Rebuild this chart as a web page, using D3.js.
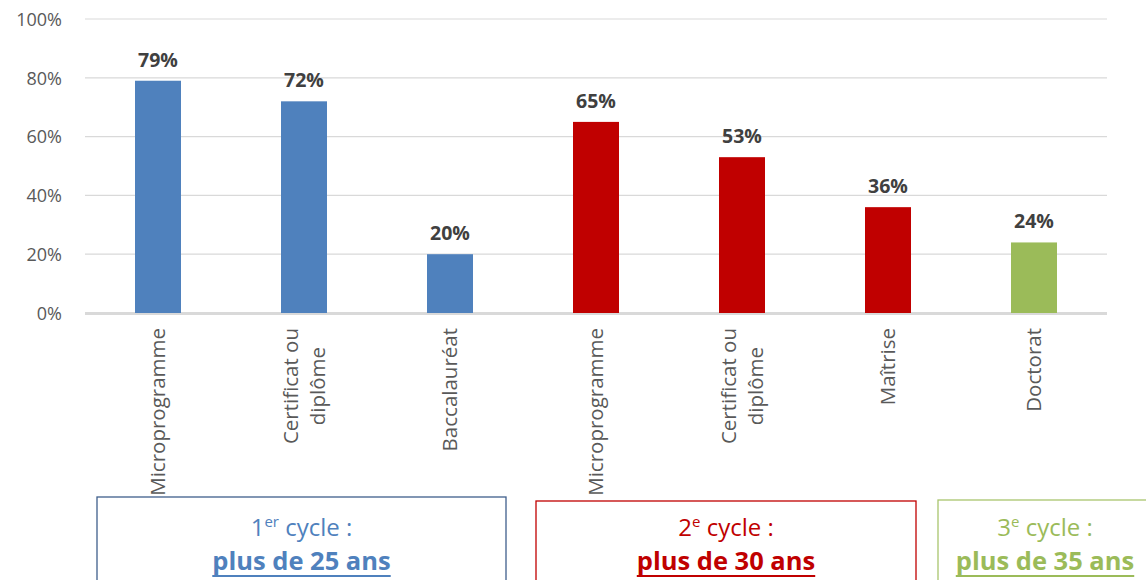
<!DOCTYPE html>
<html>
<head>
<meta charset="utf-8">
<script src="https://cdn.jsdelivr.net/npm/d3@7"></script>
<style>
  html, body { margin: 0; padding: 0; background: #fff; }
  svg { display: block; }
</style>
</head>
<body>
<svg id="chart" width="1146" height="580"></svg>
<script>
// ---- data ----
const categories = [
  ["Microprogramme"],
  ["Certificat ou", "diplôme"],
  ["Baccalauréat"],
  ["Microprogramme"],
  ["Certificat ou", "diplôme"],
  ["Maîtrise"],
  ["Doctorat"]
];
const values = [0.79, 0.72, 0.20, 0.65, 0.53, 0.36, 0.24];
const cycleOfBar = [0, 0, 0, 1, 1, 1, 2];
const yTicks = [0, 0.2, 0.4, 0.6, 0.8, 1.0];

const cycleNumbers = ["1", "2", "3"];
const cycleSups = ["er", "e", "e"];
const cycleAges = ["plus de 25 ans", "plus de 30 ans", "plus de 35 ans"];
const cycleColors = ["#4F81BD", "#C00000", "#9BBB59"];
const cycleBorders = ["#3F5F8C", "#C00000", "#A9C56E"];

// ---- layout ----
const W = 1146, H = 580;
const plot = { left: 85, right: 1107, top: 19, bottom: 313 };
const boxes = [
  { x: 97, y: 497, w: 409 },
  { x: 536, y: 501, w: 380 },
  { x: 938, y: 500, w: 214 }
];

const svg = d3.select("#chart");

const x = d3.scaleBand()
  .domain(d3.range(values.length))
  .range([plot.left, plot.right])
  .paddingInner(0.685)
  .paddingOuter(0.3425);

const y = d3.scaleLinear().domain([0, 1]).range([plot.bottom, plot.top]);

// gridlines
svg.append("g")
  .selectAll("line")
  .data(yTicks)
  .join("line")
  .attr("x1", plot.left)
  .attr("x2", plot.right)
  .attr("y1", d => y(d))
  .attr("y2", d => y(d))
  .attr("stroke", "#D9D9D9")
  .attr("stroke-width", d => d === 0 ? 2 : 1.2);

// y-axis labels via d3 axis
const yAxis = d3.axisLeft(y)
  .tickValues(yTicks)
  .tickFormat(d3.format(".0%"))
  .tickSize(0)
  .tickPadding(0);
const yg = svg.append("g")
  .attr("transform", `translate(62,0)`)
  .call(yAxis);
yg.select(".domain").remove();
yg.selectAll("text")
  .attr("font-family", "'Open Sans', sans-serif")
  .attr("font-size", 18)
  .attr("fill", "#595959")
  .attr("dy", "0.35em");

// bars
svg.append("g")
  .selectAll("rect")
  .data(values)
  .join("rect")
  .attr("x", (d, i) => x(i))
  .attr("width", x.bandwidth())
  .attr("y", d => y(d))
  .attr("height", d => y(0) - y(d))
  .attr("fill", (d, i) => cycleColors[cycleOfBar[i]]);

// redraw baseline on top of bars
svg.append("line")
  .attr("x1", plot.left).attr("x2", plot.right)
  .attr("y1", y(0) + 1).attr("y2", y(0) + 1)
  .attr("stroke", "#D9D9D9").attr("stroke-width", 2);

// value labels
svg.append("g")
  .selectAll("text")
  .data(values)
  .join("text")
  .attr("x", (d, i) => x(i) + x.bandwidth() / 2)
  .attr("y", d => y(d) - 14)
  .attr("text-anchor", "middle")
  .attr("font-family", "'Open Sans', sans-serif")
  .attr("font-weight", 700)
  .attr("font-size", 19.5)
  .attr("fill", "#404040")
  .text(d => d3.format(".0%")(d));

// category labels (rotated)
const catG = svg.append("g");
const lineGap = 27;
categories.forEach((lines, i) => {
  const cx = x(i) + x.bandwidth() / 2;
  const t = catG.append("text")
    .attr("font-family", "'Open Sans', sans-serif")
    .attr("font-size", 20.5)
    .attr("fill", "#595959")
    .attr("text-anchor", "middle");
  lines.forEach((l, j) => {
    t.append("tspan").attr("x", 0).attr("y", (j - (lines.length - 1) / 2) * lineGap).text(l);
  });
  let maxLen = 0;
  t.selectAll("tspan").each(function () { maxLen = Math.max(maxLen, this.getComputedTextLength()); });
  const topY = 328;
  t.attr("transform", `translate(${cx + 7},${topY + maxLen / 2}) rotate(-90)`);
});

// cycle boxes
boxes.forEach((b, k) => {
  const g = svg.append("g");
  g.append("rect")
    .attr("x", b.x).attr("y", b.y)
    .attr("width", b.w).attr("height", 110)
    .attr("fill", "#fff")
    .attr("stroke", cycleBorders[k])
    .attr("stroke-width", 1.3);
  const cx = b.x + b.w / 2;
  const t1 = g.append("text")
    .attr("x", cx).attr("y", 536)
    .attr("text-anchor", "middle")
    .attr("font-family", "'Open Sans', sans-serif")
    .attr("font-size", 24)
    .attr("fill", cycleColors[k]);
  t1.append("tspan").text(cycleNumbers[k]);
  t1.append("tspan").attr("dy", -9).attr("font-size", 15).text(cycleSups[k]);
  t1.append("tspan").attr("dy", 9).text(" cycle :");
  const t2 = g.append("text")
    .attr("x", cx).attr("y", 570)
    .attr("text-anchor", "middle")
    .attr("font-family", "'Open Sans', sans-serif")
    .attr("font-weight", 700)
    .attr("font-size", 25.5)
    .attr("fill", cycleColors[k])
    .text(cycleAges[k]);
  const bb = t2.node().getBBox();
  g.append("line")
    .attr("x1", bb.x).attr("x2", bb.x + bb.width)
    .attr("y1", 576).attr("y2", 576)
    .attr("stroke", cycleColors[k])
    .attr("stroke-width", 2.2);
});
</script>
</body>
</html>
